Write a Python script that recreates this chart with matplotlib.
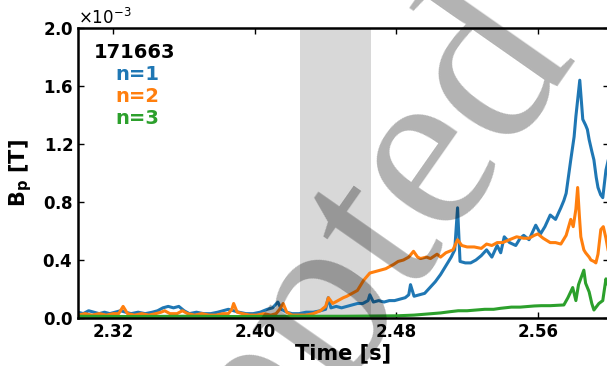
import matplotlib
matplotlib.use("Agg")
import matplotlib.pyplot as plt
from matplotlib.ticker import ScalarFormatter

# Shot number and mode labels
shot = "171663"
mode_labels = ["n=1", "n=2", "n=3"]
mode_colors = ["#1f77b4", "#ff7f0e", "#2ca02c"]

# Analysis window shaded on the time axis [s]
window = (2.4257, 2.4655)

# Mode amplitudes, in units of 1e-3 T
t_n1 = [2.300, 2.303, 2.306, 2.309, 2.312, 2.315, 2.318, 2.321, 2.324, 2.327,
        2.330, 2.334, 2.338, 2.342, 2.345, 2.348, 2.351, 2.354, 2.357, 2.360,
        2.363, 2.367, 2.371, 2.375, 2.379, 2.382, 2.385, 2.388, 2.391, 2.395,
        2.399, 2.403, 2.407, 2.410, 2.413, 2.415, 2.418, 2.421, 2.425, 2.429,
        2.433, 2.437, 2.440, 2.4415, 2.443, 2.446, 2.449, 2.452, 2.455, 2.458,
        2.461, 2.464, 2.465, 2.467, 2.470, 2.473, 2.476, 2.479, 2.482, 2.485,
        2.487, 2.488, 2.490, 2.493, 2.496, 2.499, 2.502, 2.505, 2.508, 2.511,
        2.513, 2.5146, 2.516, 2.519, 2.522, 2.525, 2.528, 2.531, 2.534, 2.537,
        2.539, 2.541, 2.544, 2.5475, 2.550, 2.552, 2.555, 2.5588, 2.5615, 2.564,
        2.567, 2.570, 2.573, 2.5747, 2.576, 2.5786, 2.5805, 2.5815, 2.5837, 2.5854,
        2.587, 2.588, 2.589, 2.5905, 2.5917, 2.593, 2.594, 2.5955, 2.5967, 2.5985,
        2.600]
b_n1 = [0.04, 0.03, 0.05, 0.04, 0.03, 0.04, 0.03, 0.04, 0.05, 0.04,
        0.03, 0.04, 0.03, 0.04, 0.05, 0.07, 0.08, 0.07, 0.08, 0.05,
        0.03, 0.04, 0.03, 0.03, 0.04, 0.05, 0.06, 0.05, 0.04, 0.03,
        0.03, 0.04, 0.06, 0.07, 0.11, 0.06, 0.04, 0.03, 0.03, 0.04,
        0.04, 0.05, 0.06, 0.14, 0.07, 0.08, 0.07, 0.08, 0.09, 0.10,
        0.10, 0.12, 0.16, 0.11, 0.12, 0.11, 0.12, 0.12, 0.13, 0.14,
        0.16, 0.23, 0.15, 0.16, 0.17, 0.21, 0.25, 0.30, 0.36, 0.42,
        0.47, 0.76, 0.39, 0.38, 0.38, 0.40, 0.43, 0.47, 0.42, 0.50,
        0.45, 0.56, 0.52, 0.50, 0.55, 0.57, 0.54, 0.64, 0.58, 0.63,
        0.71, 0.68, 0.76, 0.81, 0.86, 1.09, 1.25, 1.39, 1.64, 1.37,
        1.33, 1.30, 1.23, 1.15, 1.09, 0.97, 0.90, 0.85, 0.83, 1.02,
        1.10]

t_n2 = [2.300, 2.304, 2.308, 2.312, 2.316, 2.320, 2.323, 2.3255, 2.328, 2.332,
        2.336, 2.340, 2.344, 2.347, 2.349, 2.352, 2.356, 2.359, 2.362, 2.366,
        2.370, 2.374, 2.378, 2.382, 2.385, 2.387, 2.388, 2.390, 2.393, 2.397,
        2.401, 2.405, 2.409, 2.412, 2.414, 2.416, 2.418, 2.421, 2.425, 2.429,
        2.433, 2.437, 2.440, 2.4416, 2.444, 2.447, 2.450, 2.452, 2.455, 2.458,
        2.4615, 2.465, 2.468, 2.471, 2.474, 2.4785, 2.481, 2.484, 2.487, 2.4897,
        2.492, 2.4937, 2.497, 2.4993, 2.503, 2.505, 2.508, 2.512, 2.5146, 2.517,
        2.520, 2.524, 2.528, 2.531, 2.534, 2.537, 2.540, 2.544, 2.548, 2.552,
        2.555, 2.558, 2.560, 2.563, 2.567, 2.570, 2.573, 2.576, 2.5786, 2.580,
        2.5815, 2.5825, 2.5835, 2.5843, 2.586, 2.587, 2.589, 2.590, 2.5917, 2.5928,
        2.594, 2.5956, 2.597, 2.5985, 2.600]
b_n2 = [0.02, 0.03, 0.02, 0.03, 0.02, 0.03, 0.03, 0.08, 0.03, 0.02,
        0.03, 0.02, 0.03, 0.04, 0.05, 0.03, 0.03, 0.05, 0.03, 0.02,
        0.03, 0.02, 0.02, 0.03, 0.03, 0.06, 0.10, 0.04, 0.03, 0.02,
        0.02, 0.03, 0.02, 0.03, 0.06, 0.10, 0.04, 0.02, 0.02, 0.02,
        0.03, 0.05, 0.08, 0.14, 0.10, 0.12, 0.14, 0.15, 0.17, 0.19,
        0.26, 0.31, 0.32, 0.33, 0.34, 0.37, 0.39, 0.40, 0.42, 0.46,
        0.42, 0.41, 0.42, 0.41, 0.44, 0.42, 0.45, 0.47, 0.54, 0.50,
        0.49, 0.49, 0.48, 0.51, 0.50, 0.52, 0.52, 0.54, 0.56, 0.55,
        0.55, 0.57, 0.58, 0.55, 0.52, 0.52, 0.51, 0.57, 0.68, 0.63,
        0.75, 0.90, 0.70, 0.56, 0.47, 0.45, 0.42, 0.40, 0.39, 0.38,
        0.44, 0.61, 0.63, 0.55, 0.45]

t_n3 = [2.300, 2.330, 2.360, 2.390, 2.420, 2.450, 2.470, 2.480, 2.490, 2.500,
        2.505, 2.5107, 2.515, 2.520, 2.525, 2.530, 2.535, 2.539, 2.545, 2.550,
        2.555, 2.558, 2.562, 2.567, 2.5747, 2.577, 2.5797, 2.5815, 2.583, 2.586,
        2.587, 2.589, 2.5905, 2.5917, 2.5945, 2.5967, 2.5985, 2.600]
b_n3 = [0.012, 0.010, 0.012, 0.010, 0.012, 0.012, 0.014, 0.015, 0.020, 0.030,
        0.035, 0.044, 0.050, 0.050, 0.055, 0.060, 0.060, 0.067, 0.075, 0.075,
        0.080, 0.083, 0.085, 0.085, 0.090, 0.140, 0.210, 0.120, 0.230, 0.330,
        0.240, 0.180, 0.100, 0.055, 0.100, 0.120, 0.270, 0.220]

x_ticks = [2.32, 2.40, 2.48, 2.56]
y_ticks = [0.0, 0.4, 0.8, 1.2, 1.6, 2.0]

W, H = 607, 366
fig = plt.figure(figsize=(W / 100, H / 100), dpi=100)
ax = fig.add_axes([78 / W, 48 / H, 530.6 / W, 290 / H])

ax.axvspan(*window, color="gray", alpha=0.3, lw=0, zorder=0)

scale = 1e-3
for t, b, c in zip([t_n1, t_n2, t_n3], [b_n1, b_n2, b_n3], mode_colors):
    ax.plot(t, [v * scale for v in b], color=c, lw=2.2, zorder=2)

ax.set_xlim(2.30, 2.60)
ax.set_ylim(0, 2.0e-3)
ax.set_xticks(x_ticks)
ax.set_yticks([v * scale for v in y_ticks])

fmt = ScalarFormatter(useMathText=True)
fmt.set_powerlimits((-2, 2))
ax.yaxis.set_major_formatter(fmt)
ax.yaxis.get_offset_text().set_fontsize(12)

ax.tick_params(direction="in", top=True, right=True, length=4, width=1,
               labelsize=12)
for lbl in ax.get_xticklabels() + ax.get_yticklabels():
    lbl.set_fontweight("bold")
for s in ax.spines.values():
    s.set_linewidth(1.8)

ax.set_xlabel("Time [s]", fontsize=15, fontweight="bold", labelpad=2)
ax.set_ylabel(r"$\mathbf{B_p}$ [T]", fontsize=15, fontweight="bold", labelpad=6)

# Shot number with the mode labels below it
fig.text(135 / W, 1 - 52 / H, shot, fontsize=14, fontweight="bold",
         ha="center", va="center")
for i, (lab, c) in enumerate(zip(mode_labels, mode_colors)):
    fig.text(115 / W, 1 - (75 + 22 * i) / H, lab, color=c, fontsize=14,
             fontweight="bold", ha="left", va="center")

# Diagonal watermark
fig.text(577 / W, 1 - 56 / H, "Accepted", fontsize=173,
         family=["Liberation Serif", "DejaVu Serif"], color="black", alpha=0.3,
         rotation=55, rotation_mode="anchor", ha="right", va="baseline",
         zorder=10)

fig.savefig("out.png", dpi=100)
